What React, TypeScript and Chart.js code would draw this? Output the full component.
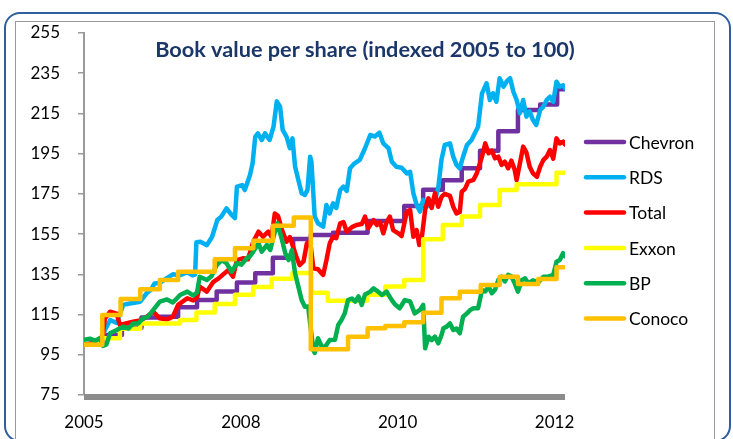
import React, { useEffect, useRef } from "react";
import { Chart, registerables } from "chart.js";

Chart.register(...registerables);

// x values are weeks since the start of 2005
const xTickWeeks = [0, 120, 240, 360];
const xTickLabels = ["2005", "2008", "2010", "2012"];
const xMaxWeek = 368;
const yMin = 75;
const yMax = 255;
const yStep = 20;

const seriesNames = ["Chevron", "RDS", "Total", "Exxon", "BP", "Conoco"];
const seriesColors = ["#7030A0", "#00B0F0", "#FF0000", "#FFFF00", "#00B050", "#FFC000"];

// Step series (value starts at given week)
const chevronWeeks = [0, 14, 29, 44, 58, 72, 86.5, 101.5, 117, 131, 144.5, 160, 173.5, 190.5, 217, 245, 259.5, 274.5, 289, 303, 317, 332, 349, 362, 368];
const chevronValues = [100, 104.8, 108.5, 113.5, 113.9, 118.6, 122.2, 126.5, 131, 135.5, 143.2, 152.6, 154.6, 155.7, 161.5, 169, 177, 181.8, 187.7, 196.5, 206.2, 216.7, 219.5, 227, 227];

const exxonWeeks = [0, 12, 27.5, 43, 73.5, 86, 100, 115.5, 129.5, 143.5, 159.5, 174, 186.5, 216.5, 230.5, 245, 259.5, 274.5, 289, 303, 318, 331, 361.5, 368];
const exxonValues = [100, 103.2, 108, 110.5, 112.3, 116, 120.3, 124.8, 128.7, 132.8, 135.7, 125.9, 121.9, 124.8, 128.9, 132.2, 152.5, 159.5, 163.7, 169.5, 176.9, 179.8, 185.5, 185.5];

const conocoWeeks = [0, 14, 28, 43, 58, 72, 100, 115.5, 129.5, 144.5, 160.5, 173.5, 202, 217, 230.5, 245, 259.5, 273.5, 287.5, 303.5, 318, 332, 347.5, 361.5, 368];
const conocoValues = [100, 114.8, 122.7, 127.6, 132.2, 136.3, 142.5, 148, 151.7, 159.2, 163.2, 97.7, 104, 108.2, 109.3, 111.2, 115.9, 123.1, 126.4, 129.7, 133.8, 130.2, 132.7, 138.5, 138.5];

// Continuous series
const rdsWeeks = [0, 5, 12, 16, 20, 25, 30, 35, 43, 48, 51, 54, 58, 63, 68, 73, 79, 83, 85, 86, 89, 94, 98, 102, 105, 109, 113, 115.5, 117, 121, 123, 127, 129, 131, 133, 136, 138.5, 142, 145, 147.5, 150, 152, 155, 157.5, 159.5, 161.5, 164, 166.5, 169, 171, 173, 174, 176.5, 179, 183, 185.5, 188, 190.5, 193, 196, 198.5, 201, 203.5, 207, 211, 215, 219, 222.5, 226, 229, 233, 235.5, 239, 243, 247, 249.5, 252, 254.5, 257, 259.5, 262, 264.5, 268.5, 271, 273.5, 276, 280, 282.5, 285, 287.5, 290, 293, 296.5, 299, 301.5, 304.5, 308, 310.5, 313, 315.5, 318, 321, 323.5, 326, 328.5, 331, 333.5, 336, 338.5, 341, 343.5, 346, 349, 351.5, 354, 356.5, 359, 361.5, 364, 366.5, 368];
const rdsValues = [100, 100.5, 102, 107.3, 112.3, 110.8, 119.8, 120.5, 121.4, 125.7, 127.2, 130.5, 130.7, 133, 135, 134.5, 136, 134.5, 135, 151, 151.2, 149.5, 153.7, 162, 163.7, 167.8, 164.5, 162.9, 178.6, 179.4, 176.9, 184.4, 190.2, 203.4, 205.1, 201.8, 205.1, 201.8, 208.4, 221, 218.4, 206.8, 203.4, 197.7, 202.6, 188.5, 181.9, 175.3, 174.5, 177, 193.5, 191, 163.7, 160.4, 158.7, 169.5, 165.3, 170.3, 168, 176.9, 178.6, 176.5, 187.7, 190.2, 191.9, 197.7, 204.3, 203.5, 205.4, 200.1, 197.7, 191, 188.5, 188, 185.2, 186, 175.3, 169.5, 166.2, 172, 169.5, 169, 172, 177.8, 192, 199.3, 200.1, 193.5, 189.4, 187.7, 193.5, 199.3, 201.8, 205.1, 208.4, 225, 230, 221.7, 225, 220.8, 232.5, 228.3, 231, 232.5, 225.8, 221.7, 215.1, 221.7, 213.4, 216, 211.7, 209.3, 216.7, 218.4, 221.7, 223.3, 220.8, 230.8, 228.3, 229, 227.5];

const totalWeeks = [0, 8, 14, 16, 20, 25, 27.5, 37.5, 43, 48, 53, 58, 63.5, 68, 72, 79, 83.5, 86.5, 88.5, 94, 99, 103, 106.5, 110.5, 114, 117, 122, 125.5, 129.5, 133.5, 137, 141, 143.5, 146, 148.5, 151.5, 155, 157.5, 160, 162.5, 165, 168, 170.5, 173, 175.5, 179, 183, 185.5, 188, 190.5, 193, 196, 198.5, 201, 205, 208.5, 212.5, 215, 217.5, 221.5, 224, 226.5, 229, 231.5, 234, 236.5, 240.5, 243, 247, 249.5, 252, 254.5, 256.5, 258.5, 261, 263.5, 266, 268.5, 271, 273.5, 276, 280, 282.5, 285, 287.5, 289, 291.5, 294, 298, 300.5, 304.5, 307, 309.5, 312, 314.5, 317, 319.5, 322, 324.5, 327, 329.5, 331, 333.5, 336, 338.5, 341, 343.5, 346.5, 349, 351.5, 354, 356.5, 359, 361.5, 364, 366.5, 368];
const totalValues = [100, 101, 104, 113, 116.4, 115.5, 109.8, 111.4, 112, 113.9, 116.4, 113.1, 112.5, 113.9, 119.8, 123.1, 122, 123.5, 128.9, 126.4, 131.3, 133, 135, 137.2, 133.8, 142.1, 143, 142.5, 151.2, 156.2, 153.7, 156.2, 153.7, 165.3, 164, 157, 151.2, 153.5, 148.7, 143.7, 139.6, 141.5, 150.4, 151.5, 138, 137.5, 134.7, 142.1, 150.4, 153.7, 153, 160.4, 161, 156.2, 158.5, 159.5, 160, 163.7, 158, 162, 159.5, 161, 155.4, 161, 163.7, 157, 155.4, 154, 166.2, 167, 153.7, 157, 149.6, 153.7, 167, 172.8, 168, 175.3, 168.6, 173.5, 175, 174, 168.6, 165.3, 166, 176.1, 177.5, 181.1, 182, 185.2, 193.5, 200.1, 195.2, 196.5, 192.7, 193.5, 189.4, 191, 187.7, 191.5, 187, 181.9, 190.2, 198.5, 195.5, 188.5, 185.2, 183.5, 188.5, 191.9, 193.5, 196.8, 192.5, 202.6, 200.1, 201, 199.5];

const bpWeeks = [0, 4.5, 8.5, 12, 14.5, 17, 20, 25, 30, 34, 37.5, 41.5, 45, 49, 53, 58, 63.5, 68, 73.5, 79, 83.5, 86.5, 88.5, 94, 97.5, 101.5, 105.5, 109, 113, 117, 120.5, 124.5, 127, 129.5, 133.5, 136, 140, 142.5, 145, 148, 151.5, 154, 156.5, 159, 161.5, 164, 166.5, 169, 171.5, 173, 175.5, 176.5, 179, 182, 184.5, 188, 192, 194.5, 197, 199.5, 202, 205, 207.5, 210, 212.5, 215, 219, 221.5, 225, 228, 231.5, 235.5, 238, 241.5, 245.5, 249.5, 253, 257, 259.5, 261, 263.5, 266, 268.5, 271, 273.5, 275, 277.5, 280, 282.5, 285, 287.5, 290, 293, 295.5, 298, 301.5, 304.5, 307, 309.5, 312, 314.5, 317, 319.5, 322, 324.5, 327, 329.5, 332, 335, 337.5, 340, 343.5, 347.5, 351.5, 355, 359, 361.5, 364, 366.5, 368];
const bpValues = [102.5, 103, 102, 103.2, 99.4, 100, 105.7, 107.3, 109, 108, 110.6, 110.5, 113.1, 114, 117.3, 121.4, 122.5, 121, 124.7, 126.4, 124.5, 126, 133.8, 132.2, 134, 139.6, 142.1, 140.5, 136.3, 140.5, 139.8, 143, 144, 146.3, 150.4, 146.3, 149.6, 147.1, 153.7, 160.4, 152.1, 145.5, 142.1, 147, 135.5, 128.9, 122.2, 118.9, 119, 110.6, 97.4, 95.9, 103.2, 99, 99, 102.3, 102.5, 109.8, 112.3, 115.6, 122.2, 123, 121.4, 124, 119.8, 125, 126.4, 128, 126.4, 124.7, 126.4, 122.2, 120, 118.1, 122.2, 121.5, 115.6, 117.3, 119.8, 98.2, 104, 102.3, 104, 100.7, 104.8, 108.2, 109, 110.6, 107.3, 108, 105.7, 113.9, 115.6, 117.3, 118.1, 118.1, 127.2, 126.5, 128.9, 125.6, 127.5, 132.2, 133.8, 131.5, 134.7, 134, 130.5, 126.4, 132.2, 133, 130.5, 132, 131, 133.8, 133.8, 134.7, 141.3, 142.1, 145.5, 144];

const toPoints = (weeks: number[], values: number[]) =>
  weeks.map((w, i) => ({ x: w, y: values[i] }));

const FONT = "Lato, 'Liberation Sans', sans-serif";

const decorPlugin = {
  id: "decor",
  afterDraw(chart: any) {
    const ctx = chart.ctx as CanvasRenderingContext2D;
    const area = chart.chartArea;
    ctx.save();
    // thick category axis line
    ctx.fillStyle = "#8C8C8C";
    ctx.fillRect(area.left, area.bottom - 1, area.right - area.left, 6);
    // title
    ctx.fillStyle = "#1B3668";
    ctx.font = `bold 21.7px ${FONT}`;
    ctx.textAlign = "center";
    ctx.textBaseline = "alphabetic";
    ctx.fillText("Book value per share (indexed 2005 to 100)", 365, 57);
    // legend
    ctx.font = `17.5px ${FONT}`;
    ctx.textAlign = "left";
    ctx.textBaseline = "middle";
    ctx.lineCap = "round";
    ctx.lineWidth = 4.5;
    chart.data.datasets.forEach((ds: any, i: number) => {
      const y = 142 + i * 35.3;
      ctx.strokeStyle = ds.borderColor;
      ctx.beginPath();
      ctx.moveTo(586, y);
      ctx.lineTo(624, y);
      ctx.stroke();
      ctx.fillStyle = "#000";
      ctx.fillText(ds.label, 629, y + 1);
    });
    ctx.restore();
  },
};

export default function App() {
  const canvasRef = useRef<HTMLCanvasElement | null>(null);

  useEffect(() => {
    document.body.style.margin = "0";
    const canvas = canvasRef.current;
    if (!canvas) return;
    const stepped = [true, false, false, true, false, true];
    const seriesData = [
      toPoints(chevronWeeks, chevronValues),
      toPoints(rdsWeeks, rdsValues),
      toPoints(totalWeeks, totalValues),
      toPoints(exxonWeeks, exxonValues),
      toPoints(bpWeeks, bpValues),
      toPoints(conocoWeeks, conocoValues),
    ];
    const chart = new Chart(canvas, {
      type: "line",
      data: {
        datasets: seriesNames.map((name, i) => ({
          label: name,
          data: seriesData[i],
          borderColor: seriesColors[i],
          backgroundColor: seriesColors[i],
          borderWidth: 4.5,
          pointRadius: 0,
          tension: 0,
          stepped: stepped[i] ? "before" : false,
          borderJoinStyle: "round",
          borderCapStyle: "round",
          order: seriesNames.length - i,
          fill: false,
        })),
      },
      options: {
        animation: false,
        responsive: false,
        maintainAspectRatio: false,
        events: [],
        layout: { padding: { top: 33, right: 168, left: 0, bottom: 0 } },
        plugins: {
          legend: { display: false },
          title: { display: false },
          tooltip: { enabled: false },
        },
        scales: {
          x: {
            type: "linear",
            min: 0,
            max: xMaxWeek,
            afterFit: (scale: any) => {
              scale.height = 44;
            },
            afterBuildTicks: (scale: any) => {
              scale.ticks = xTickWeeks.map((v) => ({ value: v }));
            },
            grid: { display: false, drawTicks: false },
            border: { display: false },
            ticks: {
              autoSkip: false,
              maxRotation: 0,
              padding: 17,
              color: "#000",
              font: { family: FONT, size: 17 },
              callback: (value: any) => {
                const idx = xTickWeeks.indexOf(Number(value));
                return idx >= 0 ? xTickLabels[idx] : "";
              },
            },
          },
          y: {
            min: yMin,
            max: yMax,
            afterFit: (scale: any) => {
              scale.width = 84;
            },
            grid: {
              display: true,
              drawOnChartArea: false,
              drawTicks: true,
              tickLength: 6,
              color: "#9A9A9A",
              lineWidth: 1.5,
            },
            border: { display: true, color: "#9A9A9A", width: 2 },
            ticks: {
              stepSize: yStep,
              padding: 18,
              color: "#000",
              font: { family: FONT, size: 17 },
            },
          },
        },
      },
      plugins: [decorPlugin],
    });
    return () => chart.destroy();
  }, []);

  return (
    <div style={{ position: "relative", width: 733, height: 439, overflow: "hidden", background: "#fff" }}>
      <div
        style={{
          position: "absolute",
          left: 4,
          top: 12,
          width: 727,
          height: 430,
          border: "2px solid #2F5F9E",
          borderRadius: 16,
          boxSizing: "border-box",
        }}
      />
      <div
        style={{
          position: "absolute",
          left: 15,
          top: 21,
          width: 700,
          height: 430,
          border: "1.5px solid #9A9A9A",
          boxSizing: "border-box",
        }}
      />
      <canvas
        ref={canvasRef}
        width={733}
        height={439}
        style={{ position: "absolute", left: 0, top: 0, width: 733, height: 439 }}
      />
    </div>
  );
}
